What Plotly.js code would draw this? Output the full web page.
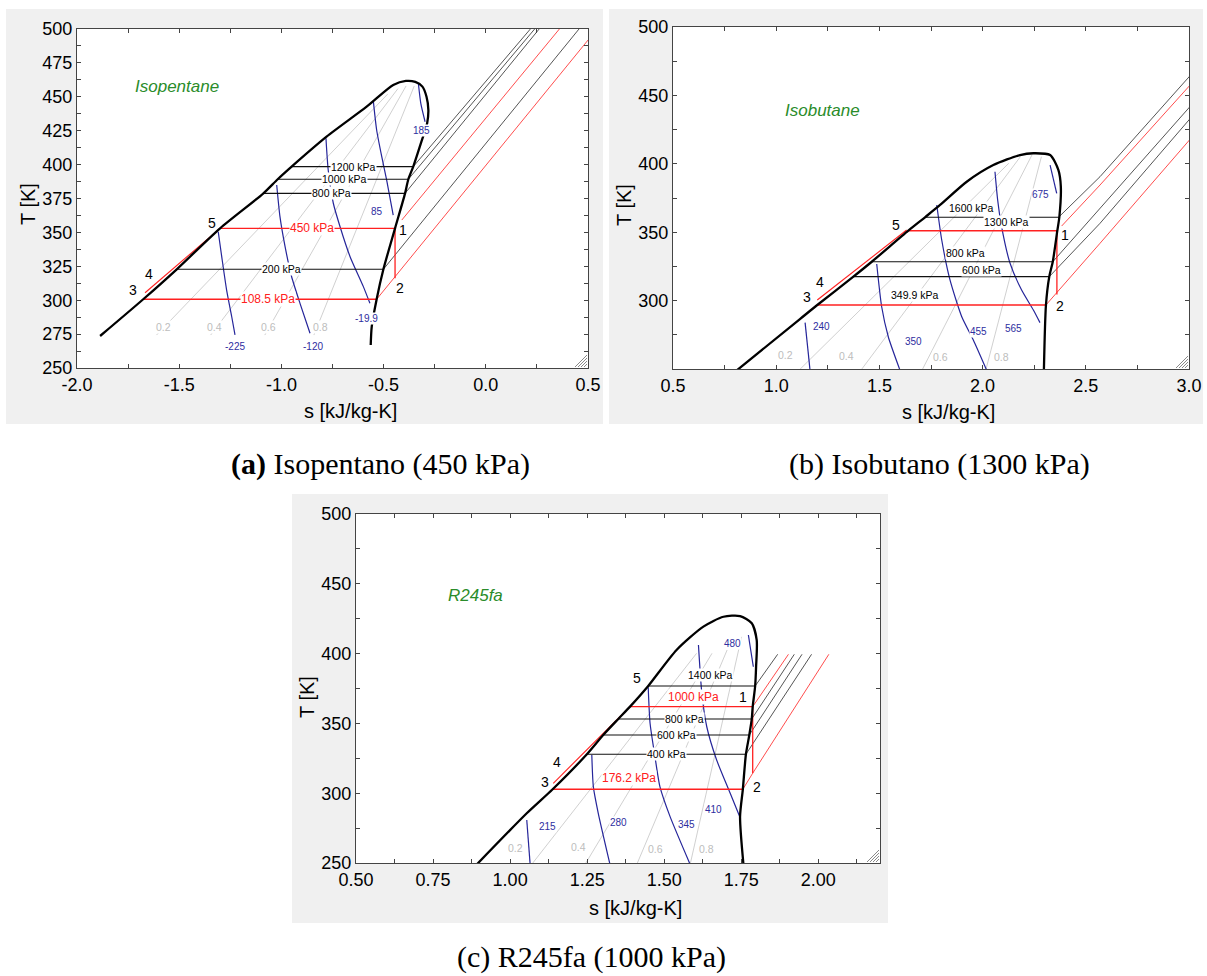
<!DOCTYPE html>
<html><head><meta charset="utf-8">
<script src="https://cdn.plot.ly/plotly-3.0.1.min.js"></script>
<style>html,body{margin:0;padding:0;background:#fff}#chart{width:1207px;height:976px}</style>
</head><body><div id="chart"></div>
<script>
const W = 1207, H = 976;

// ---------------- Panel (a) Isopentane ----------------
const A_FLUID = 'Isopentane';
const A_FLUID_POS = [-1.512, 457.5];
const A_DOME_S = [-1.887, -1.676, -1.512, -1.30, -1.088, -1.018, -0.950, -0.779, -0.583, -0.453, -0.391, -0.345, -0.310, -0.290, -0.281, -0.287, -0.315, -0.355, -0.379, -0.395, -0.444, -0.501, -0.534, -0.558, -0.563];
const A_DOME_T = [273.6, 300.7, 322.8, 353.0, 378.8, 389.2, 398.5, 420.6, 442.7, 458.7, 461.7, 461.0, 457.5, 450.0, 440.3, 430.5, 416.9, 398.5, 389.2, 378.8, 353.0, 322.8, 300.7, 280.5, 267.0];
const A_P_NAMES = ['1200 kPa', '1000 kPa', '800 kPa', '450 kPa', '200 kPa', '108.5 kPa'];
const A_P_T = [398.5, 389.2, 378.8, 353.0, 322.8, 300.7];
const A_P_SL = [-0.950, -1.018, -1.088, -1.300, -1.512, -1.676];
const A_P_SR = [-0.355, -0.379, -0.395, -0.444, -0.501, -0.534];
const A_P_LBL_S = [-0.648, -0.689, -0.754, -0.852, -0.999, -1.064];
const A_P_LBL_T = [398.5, 389.2, 378.8, 353.0, 322.8, 300.7];
const A_CYCLE = ['450 kPa', '108.5 kPa'];
const A_SH_S = [[-0.355, 0.218], [-0.379, 0.239], [-0.395, 0.261], [-0.411, 0.360], [-0.501, 0.456], [-0.534, 0.520]];
const A_SH_T = [[398.5, 500], [389.2, 500], [378.8, 500], [359.1, 500], [322.8, 500], [300.7, 495.5]];
const A_TURB_S = [-0.444, -0.444];
const A_TURB_T = [353.0, 316.2];
const A_PUMP_S = [-1.667, -1.300];
const A_PUMP_T = [305.5, 353.0];
const A_Q_NAMES = ['0.2', '0.4', '0.6', '0.8'];
const A_Q_S = [[-1.611, -0.48], [-1.346, -0.43], [-1.081, -0.39], [-0.841, -0.35]];
const A_Q_T = [[274.3, 452], [274.3, 456], [274.3, 458], [274.3, 458]];
const A_Q_LBL_S = [-1.578, -1.325, -1.064, -0.811];
const A_Q_LBL_T = [280.5, 280.5, 280.5, 280.5];
const A_H_NAMES = ['-225', '-120', '-19.9', '85', '185'];
const A_H_S = [[-1.309, -1.292, -1.268, -1.243, -1.227], [-1.023, -1.007, -0.982, -0.950, -0.909, -0.860], [-0.782, -0.771, -0.746, -0.713, -0.664, -0.599, -0.567], [-0.550, -0.534, -0.509, -0.485, -0.453], [-0.330, -0.318, -0.297]];
const A_H_T = [[350.5, 332.1, 307.5, 287.8, 274.5], [385.0, 361.6, 339.5, 317.3, 297.7, 275.6], [419.4, 396.0, 371.5, 354.2, 332.1, 310.0, 297.7], [446.4, 425.5, 405.8, 388.6, 362.8], [460.0, 445.2, 431.6]];
const A_H_LBL_S = [-1.227, -0.844, -0.583, -0.534, -0.314];
const A_H_LBL_T = [265.7, 265.7, 286.7, 365.3, 424.8];
const A_ST_NAMES = ['1', '2', '3', '4', '5'];
const A_ST_S = [-0.403, -0.420, -1.725, -1.646, -1.341];
const A_ST_T = [351.8, 308.8, 307.5, 319.3, 357.2];
const A_XTICKS = [-2, -1.75, -1.5, -1.25, -1, -0.75, -0.5, -0.25, 0, 0.25, 0.5];
const A_XTEXT = ['-2.0', '', '-1.5', '', '-1.0', '', '-0.5', '', '0.0', '', '0.5'];
const A_YTICKS = [250, 262.5, 275, 287.5, 300, 312.5, 325, 337.5, 350, 362.5, 375, 387.5, 400, 412.5, 425, 437.5, 450, 462.5, 475, 487.5, 500];
const A_YTEXT = ['250', '', '275', '', '300', '', '325', '', '350', '', '375', '', '400', '', '425', '', '450', '', '475', '', '500'];
const A_CAPTION = '<b>(a)</b> Isopentano (450 kPa)';

// ---------------- Panel (b) Isobutane ----------------
const B_FLUID = 'Isobutane';
const B_FLUID_POS = [1.223, 439.3];
const B_DOME_S = [0.809, 1.115, 1.199, 1.374, 1.463, 1.640, 1.721, 1.794, 1.923, 2.052, 2.181, 2.246, 2.327, 2.367, 2.379, 2.372, 2.362, 2.340, 2.323, 2.307, 2.297];
const B_DOME_T = [249.0, 286.5, 296.8, 317.5, 328.4, 351.1, 360.9, 369.9, 386.9, 399.1, 406.4, 407.7, 406.4, 395.5, 383.3, 361.3, 351.1, 328.4, 317.5, 296.8, 249.0];
const B_P_NAMES = ['1600 kPa', '1300 kPa', '800 kPa', '600 kPa', '349.9 kPa'];
const B_P_T = [360.9, 351.1, 328.4, 317.5, 296.8];
const B_P_SL = [1.721, 1.640, 1.463, 1.374, 1.199];
const B_P_SR = [2.372, 2.362, 2.340, 2.323, 2.307];
const B_P_LBL_S = [1.947, 2.117, 1.915, 1.996, 1.672];
const B_P_LBL_T = [367.9, 357.7, 335.0, 322.4, 304.1];
const B_CYCLE = ['1300 kPa', '349.9 kPa'];
const B_SH_S = [[2.372, 2.569, 3.02], [2.383, 2.569, 3.02], [2.340, 2.569, 3.02], [2.323, 2.569, 3.02], [2.307, 2.569, 3.02]];
const B_SH_T = [[361.5, 390.6, 466.9], [354.5, 384.5, 460.0], [328.4, 367.5, 444.4], [317.5, 356.5, 435.6], [296.8, 341.9, 420.5]];
const B_TURB_S = [2.360, 2.360];
const B_TURB_T = [351.1, 304.5];
const B_PUMP_S = [1.199, 1.632];
const B_PUMP_T = [300.4, 351.6];
const B_Q_NAMES = ['0.2', '0.4', '0.6', '0.8'];
const B_Q_S = [[1.110, 2.127], [1.410, 2.183], [1.706, 2.239], [2.015, 2.285]];
const B_Q_T = [[249, 400.4], [249, 405.2], [249, 406.4], [249, 405.2]];
const B_Q_LBL_S = [1.047, 1.342, 1.797, 2.093];
const B_Q_LBL_T = [260.2, 259.5, 259.0, 258.5];
const B_H_NAMES = ['240', '350', '455', '565', '675'];
const B_H_S = [[1.140, 1.164], [1.487, 1.511, 1.543, 1.600], [1.778, 1.802, 1.842, 1.899, 1.955, 2.020], [2.060, 2.073, 2.092, 2.133, 2.189, 2.246, 2.278], [2.327, 2.359]];
const B_H_T = [[283.9, 249.0], [326.8, 295.5, 273.6, 249.0], [369.9, 344.3, 315.1, 288.2, 271.2, 249.0], [394.2, 373.5, 354.0, 327.3, 307.7, 293.1, 283.9], [399.1, 378.4]];
const B_H_LBL_S = [1.220, 1.664, 1.979, 2.152, 2.282];
const B_H_LBL_T = [280.9, 269.9, 277.3, 279.8, 377.2];
const B_ST_NAMES = ['1', '2', '3', '4', '5'];
const B_ST_S = [2.399, 2.375, 1.148, 1.212, 1.580];
const B_ST_T = [348.0, 296.3, 302.9, 313.8, 355.3];
const B_XTICKS = [0.5, 0.75, 1.0, 1.25, 1.5, 1.75, 2.0, 2.25, 2.5, 2.75, 3.0];
const B_XTEXT = ['0.5', '', '1.0', '', '1.5', '', '2.0', '', '2.5', '', '3.0'];
const B_YTICKS = [250, 275, 300, 325, 350, 375, 400, 425, 450, 475, 500];
const B_YTEXT = ['', '', '300', '', '350', '', '400', '', '450', '', '500'];
const B_CAPTION = '(b) Isobutano (1300 kPa)';

// ---------------- Panel (c) R245fa ----------------
const C_FLUID = 'R245fa';
const C_FLUID_POS = [0.889, 441.3];
const C_DOME_S = [0.892, 1.054, 1.138, 1.249, 1.302, 1.351, 1.389, 1.448, 1.540, 1.627, 1.692, 1.746, 1.784, 1.800, 1.798, 1.795, 1.787, 1.784, 1.776, 1.765, 1.755, 1.746, 1.757];
const C_DOME_T = [249.0, 285.6, 302.8, 327.9, 341.7, 353.2, 362.0, 376.8, 402.6, 419.3, 426.4, 426.9, 421.7, 409.7, 390.6, 376.8, 362.0, 353.2, 341.7, 327.9, 302.8, 283.2, 249.0];
const C_P_NAMES = ['1400 kPa', '1000 kPa', '800 kPa', '600 kPa', '400 kPa', '176.2 kPa'];
const C_P_T = [376.8, 362.0, 353.2, 341.7, 327.9, 302.8];
const C_P_SL = [1.448, 1.389, 1.351, 1.302, 1.249, 1.138];
const C_P_SR = [1.795, 1.787, 1.784, 1.776, 1.765, 1.755];
const C_P_LBL_S = [1.649, 1.594, 1.567, 1.541, 1.508, 1.387];
const C_P_LBL_T = [384.7, 369.1, 353.2, 341.7, 327.9, 310.7];
const C_CYCLE = ['1000 kPa', '176.2 kPa'];
const C_SH_S = [[1.795, 1.868], [1.787, 1.903], [1.784, 1.922], [1.776, 1.947], [1.765, 1.978], [1.755, 1.787, 2.034]];
const C_SH_T = [[376.8, 399.5], [362.0, 399.5], [353.2, 399.5], [341.7, 399.5], [327.9, 399.5], [302.8, 314.3, 399.5]];
const C_TURB_S = [1.787, 1.787];
const C_TURB_T = [362.0, 314.3];
const C_PUMP_S = [1.140, 1.389];
const C_PUMP_T = [307.1, 362.0];
const C_Q_NAMES = ['0.2', '0.4', '0.6', '0.8'];
const C_Q_S = [[1.070, 1.605], [1.243, 1.655], [1.411, 1.704], [1.584, 1.751]];
const C_Q_T = [[249, 400.2], [249, 400.2], [249, 402.6], [249, 412.0]];
const C_Q_LBL_S = [1.016, 1.221, 1.473, 1.638];
const C_Q_LBL_T = [260.5, 261.2, 259.8, 259.8];
const C_H_NAMES = ['215', '280', '345', '410', '480'];
const C_H_S = [[1.054, 1.065], [1.265, 1.270, 1.286, 1.324], [1.448, 1.454, 1.470, 1.486, 1.519, 1.584], [1.611, 1.622, 1.638, 1.670, 1.714, 1.747], [1.773, 1.789]];
const C_H_T = [[280.8, 249.0], [327.4, 304.7, 285.6, 249.0], [375.9, 350.1, 326.1, 304.7, 283.2, 249.0], [406.2, 371.6, 347.6, 323.8, 299.9, 282.0], [413.3, 390.6]];
const C_H_LBL_S = [1.121, 1.351, 1.573, 1.660, 1.722];
const C_H_LBL_T = [276.5, 278.9, 277.9, 288.5, 406.9];
const C_ST_NAMES = ['1', '2', '3', '4', '5'];
const C_ST_S = [1.755, 1.800, 1.113, 1.151, 1.411];
const C_ST_T = [369.1, 304.2, 308.2, 322.6, 382.3];
const C_XTICKS = [0.5, 0.625, 0.75, 0.875, 1.0, 1.125, 1.25, 1.375, 1.5, 1.625, 1.75, 1.875, 2.0, 2.125];
const C_XTEXT = ['0.50', '', '0.75', '', '1.00', '', '1.25', '', '1.50', '', '1.75', '', '2.00', ''];
const C_YTICKS = [250, 275, 300, 325, 350, 375, 400, 425, 450, 475, 500];
const C_YTEXT = ['250', '', '300', '', '350', '', '400', '', '450', '', '500'];
const C_CAPTION = '(c) R245fa (1000 kPa)';

// ---------------- layout geometry (pixels) ----------------
const px = v => v / W, py = v => 1 - v / H;
const SANS = 'Arial, Liberation Sans, sans-serif';
const SERIF = 'Liberation Serif, Times New Roman, serif';
const RED = '#ff2020', BLUE = '#25259a', GREY_Q = '#c4c4c4';

const panels = [
  {xa: 'x', ya: 'y', box: [6, 9, 603, 424], plot: [77, 29, 588, 368], xr: [-2, 0.5],
   xt: A_XTICKS, xtt: A_XTEXT, yt: A_YTICKS, ytt: A_YTEXT,
   dome: [A_DOME_S, A_DOME_T], pn: A_P_NAMES, pt: A_P_T, psl: A_P_SL, psr: A_P_SR, pls: A_P_LBL_S, plt: A_P_LBL_T, cyc: A_CYCLE,
   shs: A_SH_S, sht: A_SH_T, turb: [A_TURB_S, A_TURB_T], pump: [A_PUMP_S, A_PUMP_T],
   qn: A_Q_NAMES, qs: A_Q_S, qt: A_Q_T, qls: A_Q_LBL_S, qlt: A_Q_LBL_T,
   hn: A_H_NAMES, hs: A_H_S, ht: A_H_T, hls: A_H_LBL_S, hlt: A_H_LBL_T,
   sn: A_ST_NAMES, ss: A_ST_S, st: A_ST_T, fluid: A_FLUID, fpos: A_FLUID_POS, redLbl: true,
   xtitle: [350, 411], ytitle: [28, 204], cap: A_CAPTION, capPos: [380, 464]},
  {xa: 'x2', ya: 'y2', box: [609, 9, 1203, 424], plot: [673, 27, 1189, 369], xr: [0.5, 3.0],
   xt: B_XTICKS, xtt: B_XTEXT, yt: B_YTICKS, ytt: B_YTEXT,
   dome: [B_DOME_S, B_DOME_T], pn: B_P_NAMES, pt: B_P_T, psl: B_P_SL, psr: B_P_SR, pls: B_P_LBL_S, plt: B_P_LBL_T, cyc: B_CYCLE,
   shs: B_SH_S, sht: B_SH_T, turb: [B_TURB_S, B_TURB_T], pump: [B_PUMP_S, B_PUMP_T],
   qn: B_Q_NAMES, qs: B_Q_S, qt: B_Q_T, qls: B_Q_LBL_S, qlt: B_Q_LBL_T,
   hn: B_H_NAMES, hs: B_H_S, ht: B_H_T, hls: B_H_LBL_S, hlt: B_H_LBL_T,
   sn: B_ST_NAMES, ss: B_ST_S, st: B_ST_T, fluid: B_FLUID, fpos: B_FLUID_POS, redLbl: false,
   xtitle: [948, 412], ytitle: [624, 205], cap: B_CAPTION, capPos: [939, 464]},
  {xa: 'x3', ya: 'y3', box: [292, 494, 888, 923], plot: [356, 514, 880, 863], xr: [0.5, 2.2],
   xt: C_XTICKS, xtt: C_XTEXT, yt: C_YTICKS, ytt: C_YTEXT,
   dome: [C_DOME_S, C_DOME_T], pn: C_P_NAMES, pt: C_P_T, psl: C_P_SL, psr: C_P_SR, pls: C_P_LBL_S, plt: C_P_LBL_T, cyc: C_CYCLE,
   shs: C_SH_S, sht: C_SH_T, turb: [C_TURB_S, C_TURB_T], pump: [C_PUMP_S, C_PUMP_T],
   qn: C_Q_NAMES, qs: C_Q_S, qt: C_Q_T, qls: C_Q_LBL_S, qlt: C_Q_LBL_T,
   hn: C_H_NAMES, hs: C_H_S, ht: C_H_T, hls: C_H_LBL_S, hlt: C_H_LBL_T,
   sn: C_ST_NAMES, ss: C_ST_S, st: C_ST_T, fluid: C_FLUID, fpos: C_FLUID_POS, redLbl: true,
   xtitle: [635, 908], ytitle: [307, 697], cap: C_CAPTION, capPos: [591, 957]}
];

const traces = [], annotations = [], shapes = [];
const layout = {
  width: W, height: H, margin: {l: 0, r: 0, t: 0, b: 0},
  paper_bgcolor: '#ffffff', plot_bgcolor: '#ffffff', showlegend: false,
  font: {family: SANS, color: '#000'}, hovermode: false,
  annotations, shapes
};

function ln(p, s, t, color, width, smooth) {
  const line = {color, width, shape: smooth ? 'spline' : 'linear'};
  if (smooth) line.smoothing = smooth;
  traces.push({type: 'scatter', mode: 'lines', x: s, y: t, xaxis: p.xa, yaxis: p.ya,
    line, hoverinfo: 'skip', showlegend: false});
}
function lbl(p, s, t, text, size, color, bg) {
  annotations.push({x: s, y: t, xref: p.xa, yref: p.ya, text, showarrow: false,
    font: {family: SANS, size, color}, bgcolor: bg ? '#ffffff' : 'rgba(0,0,0,0)', borderpad: 0,
    xanchor: 'center', yanchor: 'middle'});
}

panels.forEach((p, k) => {
  const sfx = k === 0 ? '' : String(k + 1);
  const [l, t, r, b] = p.plot;
  layout['xaxis' + sfx] = {
    domain: [px(l), px(r)], range: p.xr, anchor: p.ya, tickmode: 'array', tickvals: p.xt, ticktext: p.xtt,
    ticks: 'inside', ticklen: 4, tickcolor: '#444', showline: true, linecolor: '#444', linewidth: 1, mirror: 'ticks',
    showgrid: false, zeroline: false, tickfont: {family: SANS, size: 18, color: '#000'}, fixedrange: true
  };
  layout['yaxis' + sfx] = {
    domain: [py(b), py(t)], range: [250, 500], anchor: p.xa, tickmode: 'array', tickvals: p.yt, ticktext: p.ytt,
    ticks: 'inside', ticklen: 4, tickcolor: '#444', showline: true, linecolor: '#444', linewidth: 1, mirror: 'ticks',
    showgrid: false, zeroline: false, tickfont: {family: SANS, size: 18, color: '#000'}, fixedrange: true
  };
  // grey panel and white plotting area
  shapes.push({type: 'rect', xref: 'paper', yref: 'paper', x0: px(p.box[0]), x1: px(p.box[2]), y0: py(p.box[3]), y1: py(p.box[1]),
    fillcolor: '#f0f0f0', line: {width: 0}, layer: 'below'});
  shapes.push({type: 'rect', xref: 'paper', yref: 'paper', x0: px(l), x1: px(r), y0: py(b), y1: py(t),
    fillcolor: '#ffffff', line: {width: 0}, layer: 'below'});
  // resize grip in the corner
  [3, 6, 9, 12].forEach(d => shapes.push({type: 'line', xref: 'paper', yref: 'paper',
    x0: px(r - 1 - d), y0: py(b - 1), x1: px(r - 1), y1: py(b - 1 - d), line: {color: '#8a8a8a', width: 1}}));

  // quality lines
  p.qs.forEach((s, i) => ln(p, s, p.qt[i], GREY_Q, 0.8));
  // enthalpy lines
  p.hs.forEach((s, i) => ln(p, s, p.ht[i], BLUE, 1.2, 0.6));
  // superheated isobars
  p.shs.forEach((s, i) => ln(p, s, p.sht[i], p.cyc.includes(p.pn[i]) ? RED : '#2a2a2a', 0.8));
  // two-phase isobars
  p.pn.forEach((n, i) => {
    const red = p.cyc.includes(n);
    ln(p, [p.psl[i], p.psr[i]], [p.pt[i], p.pt[i]], red ? RED : '#111', red ? 1.4 : 1.1);
  });
  ln(p, p.turb[0], p.turb[1], RED, 1.3);
  ln(p, p.pump[0], p.pump[1], RED, 1.1);
  ln(p, p.dome[0], p.dome[1], '#000', 2.3, 0.7);

  // labels
  p.qn.forEach((n, i) => lbl(p, p.qls[i], p.qlt[i], n, 10.5, '#bdbdbd', true));
  p.hn.forEach((n, i) => lbl(p, p.hls[i], p.hlt[i], n, 10, '#2e2ea0', true));
  p.pn.forEach((n, i) => {
    const red = p.redLbl && p.cyc.includes(n);
    lbl(p, p.pls[i], p.plt[i], n, red ? 12 : 10.5, red ? RED : '#000', true);
  });
  p.sn.forEach((n, i) => lbl(p, p.ss[i], p.st[i], n, 14, '#000', false));
  annotations.push({x: p.fpos[0], y: p.fpos[1], xref: p.xa, yref: p.ya, text: '<i>' + p.fluid + '</i>', showarrow: false,
    font: {family: SANS, size: 17, color: '#2a8c2a'}, xanchor: 'center', yanchor: 'middle'});
  // axis titles and caption
  annotations.push({x: px(p.xtitle[0]), y: py(p.xtitle[1]), xref: 'paper', yref: 'paper', text: 's [kJ/kg-K]', showarrow: false,
    font: {family: SANS, size: 20, color: '#000'}, xanchor: 'center', yanchor: 'middle'});
  annotations.push({x: px(p.ytitle[0]), y: py(p.ytitle[1]), xref: 'paper', yref: 'paper', text: 'T [K]', showarrow: false,
    textangle: -90, font: {family: SANS, size: 20, color: '#000'}, xanchor: 'center', yanchor: 'middle'});
  annotations.push({x: px(p.capPos[0]), y: py(p.capPos[1]), xref: 'paper', yref: 'paper', text: p.cap, showarrow: false,
    font: {family: SERIF, size: 30, color: '#000'}, xanchor: 'center', yanchor: 'middle'});
});

Plotly.newPlot('chart', traces, layout, {staticPlot: true, displayModeBar: false});
</script></body></html>
